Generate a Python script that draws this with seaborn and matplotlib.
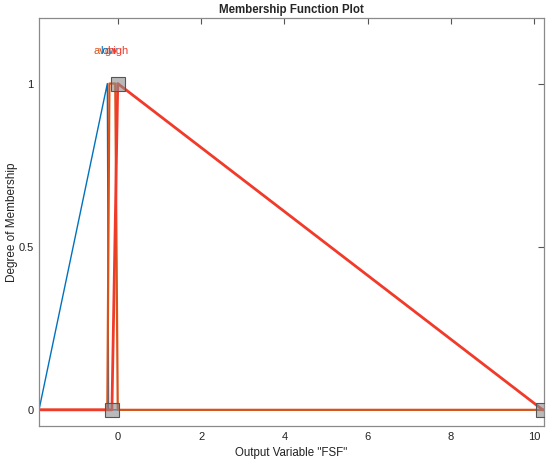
import matplotlib
matplotlib.use("Agg")
import matplotlib.pyplot as plt
import seaborn as sns
import pandas as pd

# ---- data ----
x_range = [-1.89, 10.23]
mf_names = ["low", "avg", "high"]
mf_colors = ["#0072BD", "#D95319", "#F23A2A"]
mf_x = [
    [-1.89, -1.89, -0.25, -0.22, 10.23],
    [-1.89, -0.25, -0.2, -0.06, 0.0, 10.23],
    [-1.89, -0.14, 0.0, 10.2, 10.23],
]
mf_y = [
    [0, 0, 1, 0, 0],
    [0, 0, 1, 1, 0, 0],
    [0, 0, 1, 0, 0],
]
label_x = [-0.22, -0.36, 0.0]
label_y = 1.1
handle_x = [-0.14, 0.0, 10.2]
handle_y = [0, 1, 0]
x_ticks = [0, 2, 4, 6, 8, 10]
y_ticks = [0, 0.5, 1]
y_ticklabels = ["0", "0.5", "1"]

sns.set_style("white")
plt.rcParams["font.family"] = ["Liberation Sans", "DejaVu Sans"]

fig = plt.figure(figsize=(5.5, 4.62), dpi=100)
ax = fig.add_axes([39/550, 1-425.5/462, (544-39)/550, (425.5-18.3)/462])

widths = [1.0, 1.6, 2.0]
for name, xs, ys, col, lw in zip(mf_names, mf_x, mf_y, mf_colors, widths):
    df = pd.DataFrame({"x": xs, "y": ys})
    sns.lineplot(data=df, x="x", y="y", sort=False, estimator=None,
                 color=col, linewidth=lw, ax=ax)

ax.plot(handle_x, handle_y, linestyle="none", marker="s", markersize=9.5,
        markerfacecolor=(0.55, 0.55, 0.55, 0.6), markeredgecolor="#555555",
        markeredgewidth=0.8, clip_on=True, zorder=5)

order = [1, 0, 2]
for i in order:
    ax.text(label_x[i], label_y, mf_names[i], color=mf_colors[i],
            ha="center", va="center", fontsize=8, zorder=6)

ax.set_xlim(*x_range)
ax.set_ylim(-0.048, 1.2)
ax.set_xticks(x_ticks)
ax.set_yticks(y_ticks)
ax.set_yticklabels(y_ticklabels)
ax.tick_params(direction="in", length=4, width=0.8, color="#555555",
               labelsize=8, top=True, right=True, labelcolor="#222222")
ax.tick_params(axis="x", pad=5)
ax.tick_params(axis="y", pad=4)
for s in ax.spines.values():
    s.set_color("#8a8a8a")
    s.set_linewidth(0.9)
ax.set_xlabel('Output Variable "FSF"', fontsize=8.3, color="#222222", labelpad=3)
ax.set_ylabel("Degree of Membership", fontsize=8.5, color="#222222", labelpad=0)
ax.set_title("Membership Function Plot", fontsize=8.3, fontweight="bold", pad=4)

fig.savefig("out.png", dpi=100)
